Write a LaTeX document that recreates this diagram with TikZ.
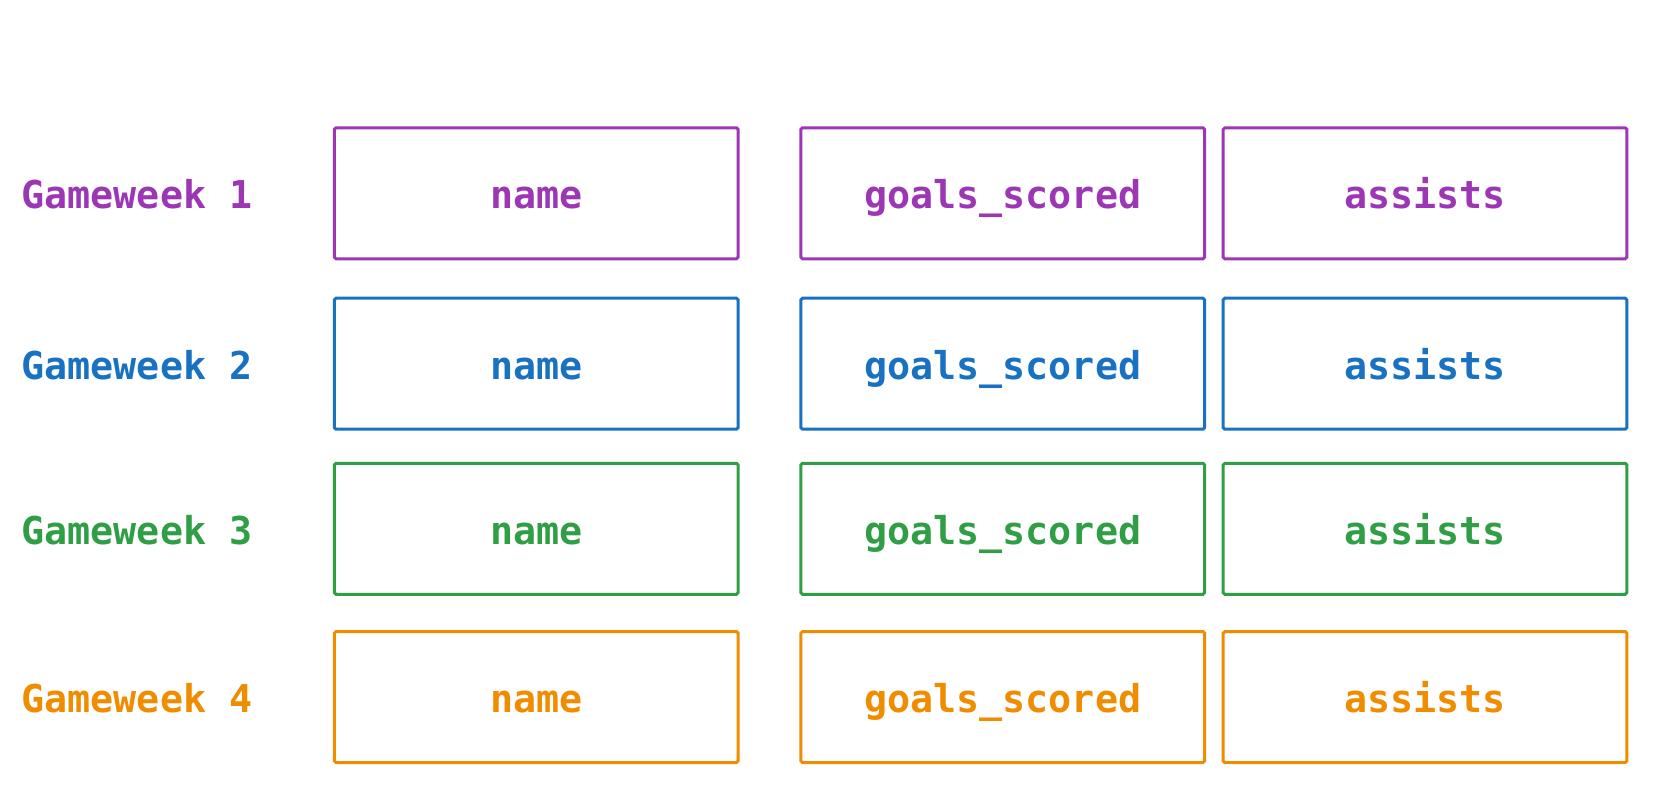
\documentclass[tikz,border=0pt]{standalone}
\usepackage{fontspec}
\setmonofont{DejaVu Sans Mono}
\definecolor{cpurple}{HTML}{9C36B5}
\definecolor{cblue}{HTML}{1971C2}
\definecolor{cgreen}{HTML}{2F9E44}
\definecolor{corange}{HTML}{F08C00}
\tikzset{
  field/.style={draw=#1, text=#1, line width=2.8pt, rounded corners=1.5pt,
    minimum width=379pt, minimum height=123pt, inner sep=0pt,
    text height=29pt, text depth=0pt,
    font=\fontsize{36}{40}\selectfont\ttfamily\bfseries},
  rowlabel/.style={text=#1, anchor=base west, inner sep=0pt,
    font=\fontsize{36}{40}\selectfont\ttfamily\bfseries}
}
\begin{document}
\begin{tikzpicture}[x=1pt,y=-1pt]
\useasboundingbox (0,0) rectangle (1568,756);
\foreach \i/\c/\y in {1/cpurple/181.5, 2/cblue/341.5, 3/cgreen/496.5, 4/corange/654.5} {
  \node[rowlabel=\c] (gw\i) at (20,\y+14.5) {Gameweek \i};
  \node[field=\c] (name\i) at (503.5,\y) {name};
  \node[field=\c] (goals\i) at (941.5,\y) {goals\_scored};
  \node[field=\c] (assists\i) at (1338,\y) {assists};
}
\end{tikzpicture}
\end{document}
